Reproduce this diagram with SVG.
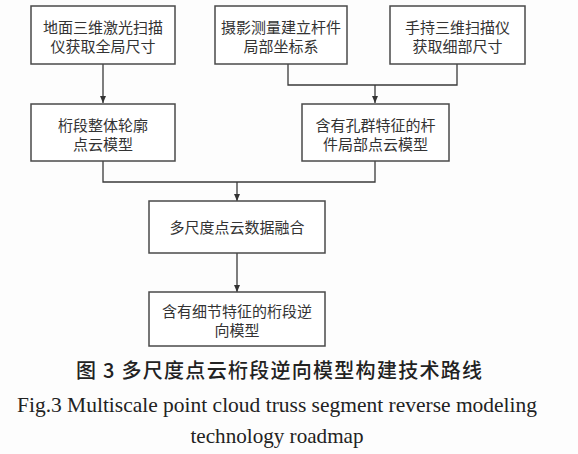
<svg xmlns="http://www.w3.org/2000/svg" width="578" height="454" viewBox="0 0 578 454">
<style>
.box{fill:#ffffff;stroke:#4a4a4a;stroke-width:1.5}
.t{font-family:"Noto Sans CJK SC","Noto Sans",sans-serif;font-size:15px;fill:#333;text-anchor:middle}
.c{fill:none;stroke:#3a3a3a;stroke-width:1.3}
.cap{font-family:"Noto Sans CJK SC",sans-serif;font-size:20px;fill:#222;text-anchor:middle;font-weight:500}
.en{font-family:"Liberation Serif",serif;font-size:21px;fill:#222;text-anchor:middle}
</style>
<defs>
<marker id="arr" markerWidth="8" markerHeight="8" refX="7" refY="4" orient="auto" markerUnits="userSpaceOnUse">
<path d="M0,1 L7,4 L0,7 Z" fill="#333"/>
</marker>
</defs>
<rect width="578" height="454" fill="#fdfdfd"/>
<g id="connectors">
<path class="c" d="M103,64 V103" marker-end="url(#arr)"/>
<path class="c" d="M288,64 V85 H457 V64"/>
<path class="c" d="M375,85 V103" marker-end="url(#arr)"/>
<path class="c" d="M103,161 V182 H375 V161"/>
<path class="c" d="M237,182 V201" marker-end="url(#arr)"/>
<path class="c" d="M237,253 V292" marker-end="url(#arr)"/>
</g>
<g id="n1"><rect class="box" x="31" y="6" width="144" height="58"/>
<text class="t" x="103" y="33">地面三维激光扫描</text><text class="t" x="103" y="52">仪获取全局尺寸</text></g>
<g id="n2"><rect class="box" x="215" y="6" width="132" height="58"/>
<text class="t" x="281" y="33">摄影测量建立杆件</text><text class="t" x="281" y="52">局部坐标系</text></g>
<g id="n3"><rect class="box" x="390" y="6" width="135" height="58"/>
<text class="t" x="457.5" y="33">手持三维扫描仪</text><text class="t" x="457.5" y="52">获取细部尺寸</text></g>
<g id="n4"><rect class="box" x="31" y="104" width="144" height="57"/>
<text class="t" x="103" y="131">桁段整体轮廓</text><text class="t" x="103" y="150">点云模型</text></g>
<g id="n5"><rect class="box" x="302" y="104" width="147" height="57"/>
<text class="t" x="375.5" y="131">含有孔群特征的杆</text><text class="t" x="375.5" y="150">件局部点云模型</text></g>
<g id="n6"><rect class="box" x="149" y="201" width="176" height="52"/>
<text class="t" x="237" y="233">多尺度点云数据融合</text></g>
<g id="n7"><rect class="box" x="149" y="292" width="176" height="54"/>
<text class="t" x="237" y="317">含有细节特征的桁段逆</text><text class="t" x="237" y="336">向模型</text></g>
<text class="cap" x="279" y="378" textLength="406" lengthAdjust="spacing">图 3 多尺度点云桁段逆向模型构建技术路线</text>
<text class="en" x="277" y="412" textLength="520" lengthAdjust="spacingAndGlyphs">Fig.3 Multiscale point cloud truss segment reverse modeling</text>
<text class="en" x="277" y="443" textLength="173" lengthAdjust="spacingAndGlyphs">technology roadmap</text>
</svg>
